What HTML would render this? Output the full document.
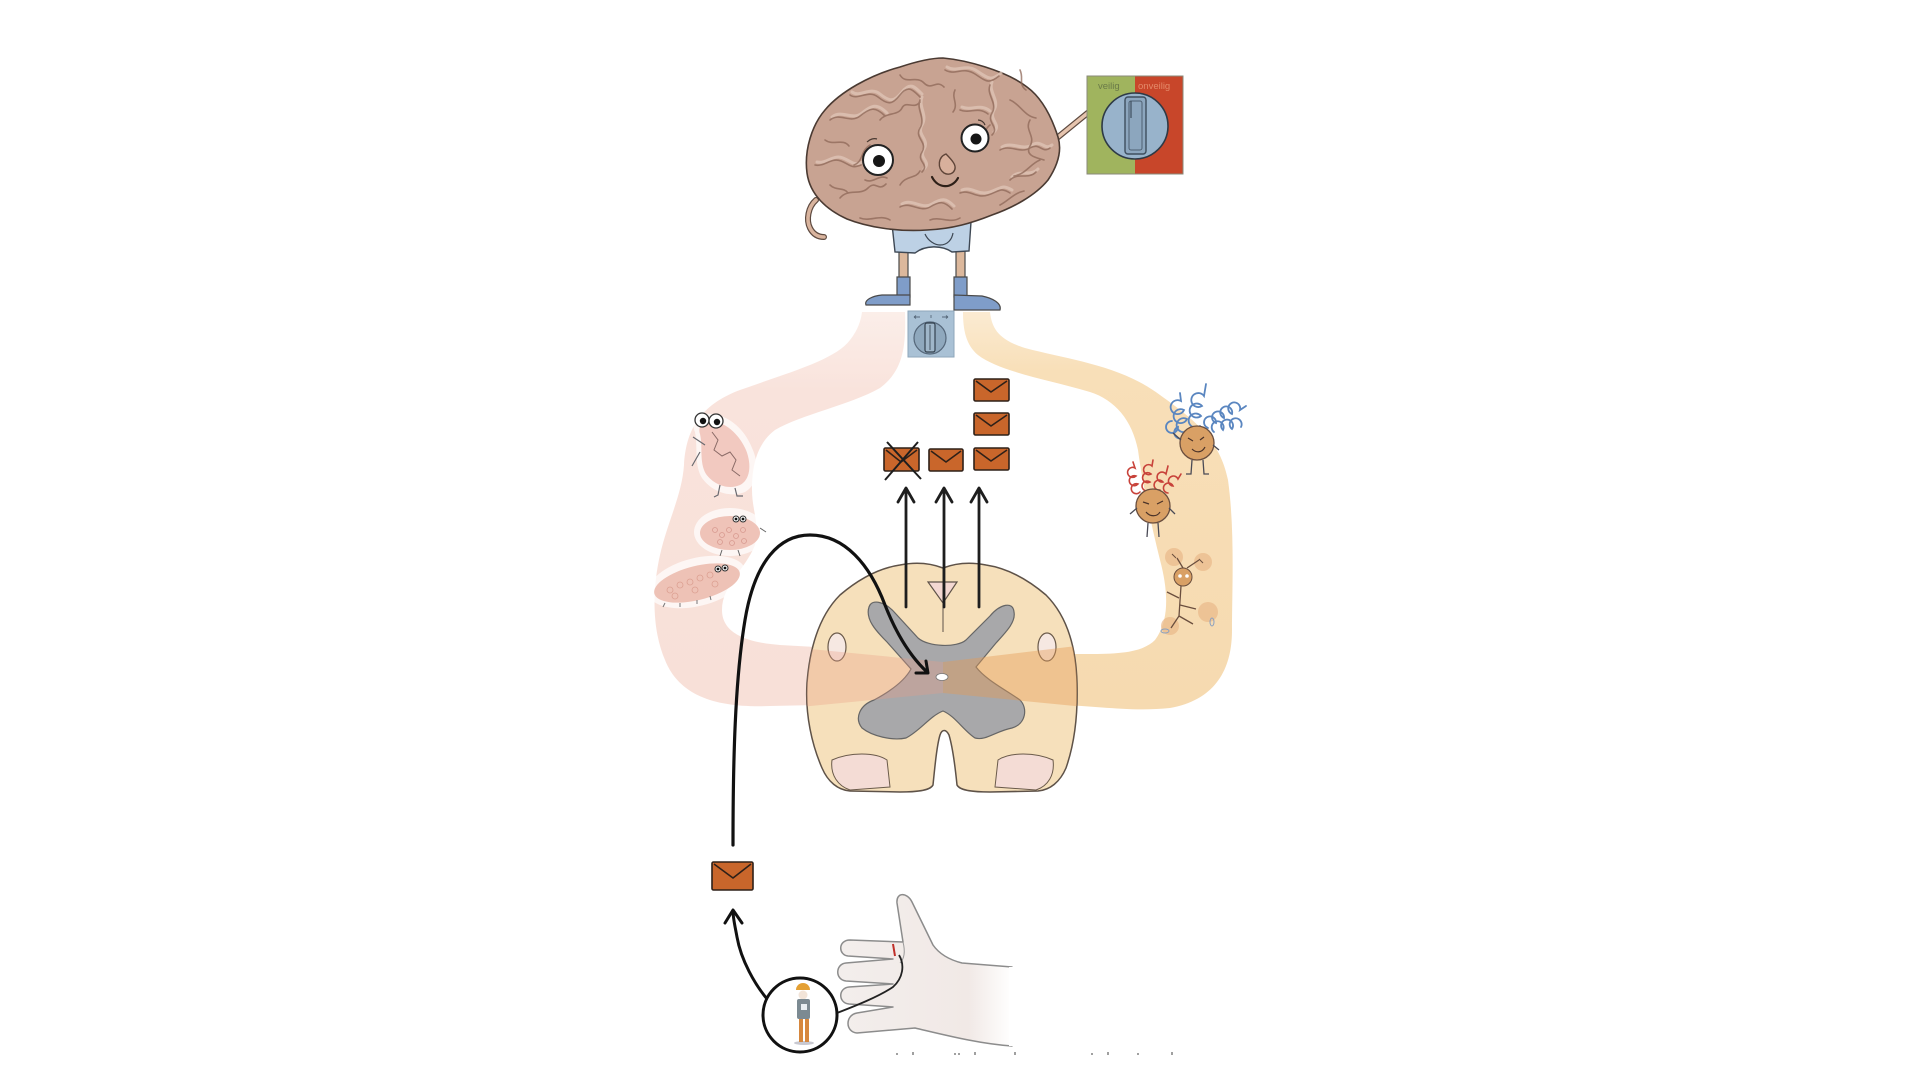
<!DOCTYPE html>
<html><head><meta charset="utf-8"><style>
html,body{margin:0;padding:0;background:#fff;}
svg{display:block;}
</style></head><body>
<svg width="1920" height="1080" viewBox="0 0 1920 1080" xmlns="http://www.w3.org/2000/svg">
<defs>
<clipPath id="cordClip">
<path d="M943 568 C930 563 915 562 900 565 C880 568 860 578 840 595 C820 615 810 645 807 683 C805 715 812 745 822 768 C828 782 838 790 850 791 L900 792 C915 792 930 791 933 785 C935 765 937 745 940 735 C942 729 946 729 949 735 C952 745 955 765 957 785 C960 791 975 792 990 792 L1038 791 C1050 790 1060 782 1066 768 C1074 745 1078 715 1077 683 C1076 645 1066 615 1046 595 C1026 578 1006 568 986 565 C971 562 956 563 943 568 Z"/>
</clipPath>
<linearGradient id="handG" x1="0" x2="1" y1="0" y2="0">
<stop offset="0" stop-color="#f3eeec"/><stop offset="0.75" stop-color="#f1e9e6"/><stop offset="1" stop-color="#ffffff"/>
</linearGradient>
<linearGradient id="lbandG" x1="0" x2="0" y1="0" y2="1">
<stop offset="0" stop-color="#fbeee9"/><stop offset="0.2" stop-color="#f9e3dc"/><stop offset="1" stop-color="#f8e0d8"/>
</linearGradient>
<linearGradient id="rbandG" x1="0" x2="0" y1="0" y2="1">
<stop offset="0" stop-color="#fbebd2"/><stop offset="0.15" stop-color="#f8dfb8"/><stop offset="1" stop-color="#f6dab0"/>
</linearGradient>
</defs>

<!-- Left pink band -->
<path d="M862 312 L905 312 C906 345 904 370 880 388 C850 405 800 415 775 430 C755 445 752 470 752 490 C752 510 760 525 755 545 C745 570 722 585 722 610 C722 630 740 642 780 645 L960 655 L960 702 L770 706 C720 708 680 698 665 660 C652 630 652 590 660 555 C668 520 682 495 684 465 C686 430 700 405 740 390 C790 372 835 360 850 340 C858 330 861 320 862 312 Z" fill="url(#lbandG)"/>

<!-- Right orange band -->
<path d="M963 312 L990 312 C992 330 1000 340 1025 348 C1070 360 1120 365 1160 395 C1195 420 1220 440 1228 480 C1235 530 1232 590 1232 630 C1232 670 1215 700 1170 708 C1130 712 1100 706 1060 705 L940 702 L940 658 L1070 654 C1110 654 1140 655 1155 640 C1170 620 1168 590 1160 560 C1150 520 1142 480 1138 450 C1132 420 1115 400 1090 392 C1050 380 1000 372 978 355 C966 345 963 330 963 312 Z" fill="url(#rbandG)"/>

<!-- Left band creatures -->
<g>
<path d="M695 432 C690 420 700 412 712 414 C730 416 745 430 752 448 C760 465 758 485 745 492 C730 498 712 492 702 478 C694 465 698 448 695 432 Z" fill="#fff" opacity="0.7"/>
<path d="M700 434 C697 425 705 419 714 421 C728 424 740 436 746 450 C752 465 750 480 740 485 C728 490 714 485 706 474 C699 462 703 447 700 434 Z" fill="#f2c9c0"/>
<path d="M712 432 l6 8 l-4 10 l8 6 l8 -4 l6 8 l-4 10 l8 6" fill="none" stroke="#8a6a66" stroke-width="1"/>
<path d="M705 445 l-12 -8 M700 452 l-8 14 M720 485 l-2 10 l-4 2 M735 488 l2 8 l6 0" fill="none" stroke="#6a6a70" stroke-width="1.2"/>
<circle cx="702" cy="420" r="7" fill="#fff" stroke="#333" stroke-width="1.3"/>
<circle cx="716" cy="421" r="7" fill="#fff" stroke="#333" stroke-width="1.3"/>
<circle cx="703" cy="421" r="3.2" fill="#111"/>
<circle cx="717" cy="422" r="3.2" fill="#111"/>

<ellipse cx="730" cy="532" rx="36" ry="24" fill="#fff" opacity="0.7"/>
<ellipse cx="730" cy="533" rx="30" ry="17" fill="#efc3b8"/>
<g fill="none" stroke="#d89a90" stroke-width="0.8">
<circle cx="715" cy="530" r="2.5"/><circle cx="722" cy="535" r="2.5"/><circle cx="729" cy="530" r="2.5"/><circle cx="736" cy="536" r="2.5"/><circle cx="743" cy="530" r="2.5"/><circle cx="720" cy="542" r="2.5"/><circle cx="732" cy="543" r="2.5"/><circle cx="744" cy="541" r="2.5"/>
</g>
<circle cx="736" cy="519" r="3" fill="#fff" stroke="#333"/><circle cx="743" cy="519" r="3" fill="#fff" stroke="#333"/>
<circle cx="736" cy="519" r="1.4" fill="#111"/><circle cx="743" cy="519" r="1.4" fill="#111"/>
<path d="M760 528 l6 4 M722 550 l-2 6 M738 550 l2 6" stroke="#666" stroke-width="1" fill="none"/>

<ellipse cx="697" cy="582" rx="50" ry="24" transform="rotate(-14 697 582)" fill="#fff" opacity="0.7"/>
<ellipse cx="697" cy="583" rx="44" ry="17" transform="rotate(-14 697 583)" fill="#eec2b6"/>
<g fill="none" stroke="#dca092" stroke-width="0.8">
<circle cx="670" cy="590" r="3"/><circle cx="680" cy="585" r="3"/><circle cx="690" cy="582" r="3"/><circle cx="700" cy="578" r="3"/><circle cx="710" cy="575" r="3"/><circle cx="675" cy="596" r="3"/><circle cx="695" cy="590" r="3"/><circle cx="715" cy="584" r="3"/>
</g>
<circle cx="718" cy="569" r="3" fill="#fff" stroke="#333"/><circle cx="725" cy="568" r="3" fill="#fff" stroke="#333"/>
<circle cx="718" cy="569" r="1.4" fill="#111"/><circle cx="725" cy="568" r="1.4" fill="#111"/>
<path d="M665 603 l-2 4 M680 603 l0 4 M697 600 l0 4 M710 596 l1 4" stroke="#777" stroke-width="1" fill="none"/>
</g>

<!-- Right band creatures -->
<g>
<!-- blue-haired -->
<g fill="none" stroke="#5a86c0" stroke-width="1.8" stroke-linecap="round">
<path d="M1190 428 a7 7 0 1 1 -3 -9 a7 7 0 1 1 -3 -9 a7 7 0 1 1 -3 -9 l-1 -8"/>
<path d="M1200 426 a7 7 0 1 1 1 -10 a7 7 0 1 1 1 -10 a7 7 0 1 1 2 -10 l2 -12"/>
<path d="M1208 428 a6 6 0 1 1 8 -5 a6 6 0 1 1 8 -5 a6 6 0 1 1 8 -4 a6 6 0 1 1 8 -4 l6 -4"/>
<path d="M1214 432 a6 6 0 1 1 9 -2 a6 6 0 1 1 9 -1 a6 6 0 1 1 9 -2"/>
<path d="M1186 431 a6 6 0 1 1 -8 -4 a6 6 0 1 1 -6 -6"/>
</g>
<circle cx="1197" cy="443" r="17" fill="#d9a065" stroke="#6a4e3e" stroke-width="1.3"/>
<path d="M1188 438 l5 3 M1204 437 l-4 3 M1192 449 c4 4 10 4 13 -2" fill="none" stroke="#4a3228" stroke-width="1.2"/>
<path d="M1181 440 l-8 -7 M1213 445 l6 5 M1192 460 l-1 14 l-5 0 M1203 460 l1 14 l5 0" fill="none" stroke="#4a4a55" stroke-width="1.3"/>
<!-- red-haired -->
<g fill="none" stroke="#c8423a" stroke-width="1.6" stroke-linecap="round">
<path d="M1140 492 a5 5 0 1 1 -2 -8 a5 5 0 1 1 -2 -8 a5 5 0 1 1 -1 -8 l-2 -6"/>
<path d="M1150 490 a5 5 0 1 1 0 -8 a5 5 0 1 1 1 -8 a5 5 0 1 1 1 -8 l1 -6"/>
<path d="M1160 490 a5 5 0 1 1 3 -8 a5 5 0 1 1 3 -8 l2 -8"/>
<path d="M1168 493 a5 5 0 1 1 5 -7 a5 5 0 1 1 5 -7 l3 -5"/>
</g>
<circle cx="1153" cy="506" r="17" fill="#d9a065" stroke="#6a4e3e" stroke-width="1.3"/>
<path d="M1143 502 l6 2 M1163 501 l-6 3 M1146 512 c4 5 11 5 14 0" fill="none" stroke="#4a3228" stroke-width="1.2"/>
<path d="M1137 508 l-7 6 M1169 508 l6 6 M1148 523 l-1 14 M1158 523 l1 14" fill="none" stroke="#4a4a55" stroke-width="1.3"/>
<!-- small creature -->
<g fill="#eab98a" opacity="0.7">
<circle cx="1174" cy="557" r="9"/><circle cx="1203" cy="562" r="9"/><circle cx="1208" cy="612" r="10"/><circle cx="1170" cy="626" r="9"/>
</g>
<circle cx="1183" cy="577" r="9" fill="#d9a065" stroke="#6a4e3e" stroke-width="1"/>
<circle cx="1180" cy="576" r="1.8" fill="#fff"/><circle cx="1187" cy="576" r="1.8" fill="#fff"/>
<path d="M1181 586 l-2 30 M1179 598 l-12 -6 M1180 605 l16 4 M1179 616 l-8 12 M1179 616 l14 8 M1183 568 l-6 -10 M1187 568 l12 -8" fill="none" stroke="#6a4e3e" stroke-width="1.3"/>
<path d="M1172 554 l4 4 M1199 559 l4 4" stroke="#6a4e3e" stroke-width="1"/>
<ellipse cx="1165" cy="631" rx="4" ry="2" fill="none" stroke="#8aa0c0" stroke-width="1"/>
<ellipse cx="1212" cy="622" rx="2" ry="4" fill="none" stroke="#8aa0c0" stroke-width="1"/>
</g>

<!-- Spinal cord -->
<path d="M943 568 C930 563 915 562 900 565 C880 568 860 578 840 595 C820 615 810 645 807 683 C805 715 812 745 822 768 C828 782 838 790 850 791 L900 792 C915 792 930 791 933 785 C935 765 937 745 940 735 C942 729 946 729 949 735 C952 745 955 765 957 785 C960 791 975 792 990 792 L1038 791 C1050 790 1060 782 1066 768 C1074 745 1078 715 1077 683 C1076 645 1066 615 1046 595 C1026 578 1006 568 986 565 C971 562 956 563 943 568 Z" fill="#f6e0bb" stroke="#5e5248" stroke-width="1.5"/>
<path d="M832 760 C850 752 875 752 887 760 L890 787 L850 790 C838 786 830 775 832 760 Z" fill="#f4dcd5" stroke="#6a5a4a" stroke-width="1"/>
<path d="M1053 760 C1035 752 1010 752 998 760 L995 787 L1036 790 C1048 786 1055 775 1053 760 Z" fill="#f4dcd5" stroke="#6a5a4a" stroke-width="1"/>
<ellipse cx="837" cy="647" rx="9" ry="14" fill="#f6e8e2" stroke="#6a5a4a" stroke-width="1.2"/>
<ellipse cx="1047" cy="647" rx="9" ry="14" fill="#f6e8e2" stroke="#6a5a4a" stroke-width="1.2"/>
<!-- gray butterfly -->
<path d="M869 607 C872 598 886 602 896 614 L918 638 C928 647 957 648 966 640 L990 616 C1000 604 1013 601 1014 612 C1016 622 1006 632 996 643 L976 667 C986 680 1006 690 1020 700 C1028 708 1026 724 1012 728 C996 731 986 741 975 738 C964 731 955 716 943 711 C930 716 920 731 906 738 C892 741 872 736 862 728 C854 718 860 705 874 700 C889 692 904 682 911 669 L887 642 C876 631 865 619 869 607 Z" fill="#a8a8aa" stroke="#666" stroke-width="1.2"/>
<!-- band overlay within cord -->
<g clip-path="url(#cordClip)">
<path d="M800 648 L943 662 L943 693 L800 707 Z" fill="#ea9f85" opacity="0.33"/>
<path d="M943 662 L1085 645 L1085 707 L943 693 Z" fill="#e59a55" opacity="0.42"/>
</g>
<path d="M928 582 L957 582 L943 603 Z" fill="#f4d8d2" stroke="#5e5248" stroke-width="1.2"/>
<path d="M943 568 L943 632" stroke="#5e5248" stroke-width="1"/>
<ellipse cx="942" cy="677" rx="6" ry="3.5" fill="#fff" stroke="#777" stroke-width="0.8"/>

<!-- vertical arrows -->
<g stroke="#1e1e1e" stroke-width="2.8" fill="none" stroke-linecap="round" stroke-linejoin="round">
<path d="M906 607 L906 489 M898 502 L906 488 L914 502"/>
<path d="M944 607 L944 489 M936 502 L944 488 L952 502"/>
<path d="M979 607 L979 489 M971 502 L979 488 L987 502"/>
</g>

<!-- envelopes -->
<g stroke="#2e2018" stroke-width="1.6" stroke-linejoin="round">
<rect x="884" y="448" width="35" height="23" rx="1.5" fill="#c9662b"/>
<path d="M886 450 L901 462 L917 450" fill="none"/>
<rect x="929" y="449" width="34" height="22" rx="1.5" fill="#c9662b"/>
<path d="M931 451 L946 462 L961 451" fill="none"/>
<rect x="974" y="379" width="35" height="22" rx="1.5" fill="#c9662b"/>
<path d="M976 381 L991 392 L1007 381" fill="none"/>
<rect x="974" y="413" width="35" height="22" rx="1.5" fill="#c9662b"/>
<path d="M976 415 L991 426 L1007 415" fill="none"/>
<rect x="974" y="448" width="35" height="22" rx="1.5" fill="#c9662b"/>
<path d="M976 450 L991 461 L1007 450" fill="none"/>
<rect x="712" y="862" width="41" height="28" rx="1.5" fill="#c9662b"/>
<path d="M714 864 L733 878 L751 864" fill="none"/>
</g>
<path d="M887 442 L921 479 M918 442 L885 480" stroke="#1e1e1e" stroke-width="2" fill="none"/>

<!-- curved arrow into cord -->
<path d="M733 845 C733 760 735 680 745 620 C755 560 780 535 810 535 C845 535 870 565 885 605 C898 638 912 658 927 672" fill="none" stroke="#111" stroke-width="3.2" stroke-linecap="round"/>
<path d="M916 673 L928 673 L926 661" fill="none" stroke="#111" stroke-width="3" stroke-linecap="round" stroke-linejoin="round"/>

<!-- arrow from circle to envelope -->
<path d="M768 1000 C755 985 741 960 737 937 C735 926 733 918 733 911" fill="none" stroke="#111" stroke-width="3" stroke-linecap="round"/>
<path d="M725 923 L733 910 L742 923" fill="none" stroke="#111" stroke-width="3" stroke-linecap="round" stroke-linejoin="round"/>

<!-- hand -->
<path d="M1012 967 L962 963 C950 960 940 955 933 945 L912 902 C907 892 896 892 897 903 L903 942 L850 940 C838 940 838 955 848 956 L893 959 L846 963 C835 964 835 980 846 981 L893 984 L849 987 C838 988 838 1003 849 1004 L893 1007 L857 1013 C845 1015 845 1032 857 1033 L915 1028 C945 1035 980 1044 1012 1046 Z" fill="url(#handG)" stroke="#8c8c8c" stroke-width="1.5" stroke-linejoin="round"/>
<path d="M1012 967 L1012 1046" stroke="#fff" stroke-width="6"/>
<path d="M903 942 C905 950 905 958 900 963" fill="none" stroke="#999" stroke-width="1"/>
<path d="M893 944 L895 956" stroke="#c0302a" stroke-width="2"/>
<path d="M837 1013 C855 1006 878 997 893 987 C903 978 905 965 899 955" fill="none" stroke="#222" stroke-width="1.8"/>

<!-- circle with person -->
<circle cx="800" cy="1015" r="37" fill="#fff" stroke="#111" stroke-width="3"/>
<ellipse cx="804" cy="1043" rx="10" ry="2" fill="#c8c8d0"/>
<path d="M796 990 A7 7 0 0 1 810 990 Z" fill="#e4a034"/>
<circle cx="803" cy="995" r="4.5" fill="#f2e4d8"/>
<rect x="797" y="999" width="13" height="20" rx="2" fill="#7c8a92"/>
<rect x="799" y="1019" width="4" height="23" fill="#d6873e"/>
<rect x="805" y="1019" width="4" height="23" fill="#d6873e"/>
<rect x="801" y="1004" width="6" height="6" fill="#e8eef2"/>

<!-- Brain arms (behind body) -->
<path d="M1052 142 L1095 107" stroke="#5e4a40" stroke-width="6" stroke-linecap="round"/>
<path d="M1052 142 L1095 107" stroke="#e6c4ae" stroke-width="3.6" stroke-linecap="round"/>
<path d="M1090 106 L1100 103" stroke="#5e4a40" stroke-width="4" stroke-linecap="round"/>
<path d="M1090 106 L1100 103" stroke="#efd8c8" stroke-width="2.2" stroke-linecap="round"/>
<path d="M816 200 C808 207 806 220 810 228 C813 234 818 237 824 237" fill="none" stroke="#5e4a40" stroke-width="6" stroke-linecap="round"/>
<path d="M816 200 C808 207 806 220 810 228 C813 234 818 237 824 237" fill="none" stroke="#d9b49e" stroke-width="3.6" stroke-linecap="round"/>

<!-- Legs / socks / feet -->
<rect x="899" y="246" width="9" height="32" fill="#dcb89c" stroke="#4a4a4a" stroke-width="1.2"/>
<rect x="956" y="246" width="9" height="32" fill="#dcb89c" stroke="#4a4a4a" stroke-width="1.2"/>
<path d="M897 277 L910 277 L910 297 L897 297 Z" fill="#7f9dc9" stroke="#4a4a4a" stroke-width="1.2"/>
<path d="M954 277 L967 277 L967 297 L954 297 Z" fill="#7f9dc9" stroke="#4a4a4a" stroke-width="1.2"/>
<path d="M910 295 L910 305 L866 305 C864 300 872 296 882 295 Z" fill="#7f9dc9" stroke="#4a4a4a" stroke-width="1.2"/>
<path d="M954 295 L954 310 L1000 310 C1002 303 992 298 982 296 Z" fill="#7f9dc9" stroke="#4a4a4a" stroke-width="1.2"/>
<!-- underpants -->
<path d="M892 224 L971 222 L969 251 L952 252 C942 245 925 245 915 253 L895 252 Z" fill="#bdd1e5" stroke="#3e4854" stroke-width="1.4"/>
<path d="M925 234 C928 241 935 245 940 245 C948 245 952 239 953 233" fill="none" stroke="#3e4854" stroke-width="1.2"/>

<!-- Brain body -->
<path d="M943 58 C965 60 1005 70 1027 87 C1042 98 1052 118 1058 137 C1062 150 1058 165 1048 180 C1035 196 1012 208 992 215 C972 223 952 229 927 230 C897 232 867 227 847 219 C827 210 810 195 807 173 C804 150 812 125 825 110 C840 92 870 75 900 67 C915 62 930 58 943 58 Z" fill="#c8a392" stroke="#4a3a32" stroke-width="1.6"/>
<g fill="none" stroke="#e0c6b8" stroke-width="3" opacity="0.75" stroke-linecap="round">
<path d="M832 117 c10 -8 20 4 30 -4 s15 -10 25 0"/>
<path d="M852 92 c8 6 18 -6 28 2 s14 8 22 -2 s12 -6 20 2"/>
<path d="M947 67 c10 6 18 -4 30 4 s14 10 24 2"/>
<path d="M992 82 c-4 10 8 18 2 28 s8 14 0 22"/>
<path d="M1002 147 c10 -6 20 4 30 -2 s12 6 20 0"/>
<path d="M962 190 c10 -4 16 6 28 2 s12 -8 22 -2"/>
<path d="M902 204 c10 -6 20 6 30 0 s14 -6 22 2"/>
<path d="M817 162 c10 2 16 -8 26 -4 s10 8 20 4"/>
<path d="M922 97 c-4 10 6 18 0 28 s8 14 2 24 s8 12 0 20"/>
<path d="M962 107 c10 4 18 -4 28 4"/>
<path d="M1012 177 c8 -8 18 0 26 -8"/>
</g>
<g fill="none" stroke="#8e6858" stroke-width="1.6" opacity="0.75" stroke-linecap="round">
<path d="M830 120 c10 -8 20 4 30 -4 s15 -10 25 0"/>
<path d="M850 95 c8 6 18 -6 28 2 s14 8 22 -2 s12 -6 20 2"/>
<path d="M900 75 c6 10 16 0 24 8 s12 -4 20 4"/>
<path d="M945 70 c10 6 18 -4 30 4 s14 10 24 2"/>
<path d="M990 85 c-4 10 8 18 2 28 s8 14 0 22"/>
<path d="M1010 100 c10 4 14 16 26 18"/>
<path d="M1030 120 c-6 10 6 16 0 26 s8 12 14 14"/>
<path d="M1000 150 c10 -6 20 4 30 -2 s12 6 20 0"/>
<path d="M1010 180 c8 -8 18 0 26 -8"/>
<path d="M960 193 c10 -4 16 6 28 2 s12 -8 22 -2"/>
<path d="M900 207 c10 -6 20 6 30 0 s14 -6 22 2"/>
<path d="M840 198 c8 -10 20 -2 28 -10 s10 4 18 -4"/>
<path d="M815 165 c10 2 16 -8 26 -4 s10 8 20 4"/>
<path d="M825 140 c8 6 18 -2 24 6"/>
<path d="M880 120 c6 -8 18 -4 22 -12 s12 2 18 -6"/>
<path d="M920 100 c-4 10 6 18 0 28 s8 14 2 24 s8 12 0 20"/>
<path d="M900 185 c6 -10 16 -6 20 -14"/>
<path d="M960 110 c10 4 18 -4 28 4"/>
<path d="M990 125 c-8 6 -4 16 -12 20"/>
<path d="M1040 160 c-10 4 -14 14 -26 16"/>
<path d="M860 218 c10 4 20 -4 30 2"/>
<path d="M930 220 c10 -4 20 4 30 -2"/>
<path d="M870 145 c-10 6 -6 16 -16 20"/>
<path d="M1000 205 c8 -4 14 -12 24 -14"/>
<path d="M955 90 c-4 8 4 14 -2 22"/>
<path d="M865 180 c8 4 14 -6 22 -2"/>
<path d="M1020 70 c4 8 -2 14 6 20"/>
<path d="M830 185 c6 6 14 2 18 8"/>
</g>
<!-- face -->
<circle cx="878" cy="160" r="15" fill="#fff" stroke="#222" stroke-width="2"/>
<circle cx="879" cy="161" r="6" fill="#161616"/>
<circle cx="975" cy="138" r="13.5" fill="#fff" stroke="#222" stroke-width="2"/>
<circle cx="976" cy="139" r="5.5" fill="#161616"/>
<path d="M867 142 c3 -3 7 -4 10 -3 M978 120 c3 0 6 2 7 5" fill="none" stroke="#4a3a32" stroke-width="1.2"/>
<path d="M946 154 C938 157 937 168 944 173 C951 177 959 170 953 162 C951 159 948 156 946 154 Z" fill="#d8b09c" stroke="#5e4438" stroke-width="1.4"/>
<path d="M932 177 C938 189 952 189 958 178" fill="none" stroke="#2e2018" stroke-width="2.2" stroke-linecap="round"/>

<!-- Switch panel -->
<rect x="1087" y="76" width="48" height="98" fill="#a0b45e"/>
<rect x="1135" y="76" width="48" height="98" fill="#c8462a"/>
<rect x="1087" y="76" width="96" height="98" fill="none" stroke="#8a8a7a" stroke-width="1"/>
<text x="1098" y="89" font-family="Liberation Sans, sans-serif" font-size="9.5" fill="#6a7a48">veilig</text>
<text x="1138" y="89" font-family="Liberation Sans, sans-serif" font-size="9.5" fill="#e48a6a">onveilig</text>
<circle cx="1135" cy="126" r="33" fill="#98b3cb" stroke="#2e3a46" stroke-width="1.6"/>
<rect x="1125" y="97" width="21" height="57" rx="3" fill="#8ca6be" stroke="#3e4e5e" stroke-width="1.4"/>
<rect x="1129" y="101" width="13" height="49" rx="2" fill="none" stroke="#4e6072" stroke-width="1"/>
<path d="M1131 101 L1131 118" stroke="#3e4e5e" stroke-width="1.2"/>

<!-- Small switch -->
<rect x="908" y="311" width="46" height="46" fill="#a9c1d5" stroke="#8ea6ba" stroke-width="1"/>
<path d="M914 317 l6 0 M914 317 l2 -1.5 M914 317 l2 1.5 M931 315 l0 3 M942 317 l6 0 M948 317 l-2 -1.5 M948 317 l-2 1.5" stroke="#56687a" stroke-width="0.9" fill="none"/>
<circle cx="930" cy="338" r="16" fill="#8fa8bd" stroke="#55677a" stroke-width="1.2"/>
<rect x="925" y="323" width="10" height="29" rx="2" fill="#9fb6c9" stroke="#34424f" stroke-width="1.2"/>
<path d="M930 325 L930 350" stroke="#34424f" stroke-width="0.8"/>

<!-- faint bottom text marks -->
<g fill="#a0a0a0">
<rect x="896" y="1053" width="2" height="2"/><rect x="912" y="1052" width="2" height="3"/>
<rect x="954" y="1053" width="2" height="2"/><rect x="958" y="1053" width="2" height="2"/>
<rect x="974" y="1052" width="2" height="3"/><rect x="1014" y="1052" width="2" height="3"/>
<rect x="1091" y="1053" width="2" height="2"/><rect x="1107" y="1052" width="2" height="3"/>
<rect x="1137" y="1053" width="2" height="2"/><rect x="1171" y="1052" width="2" height="3"/>
</g>
</svg>
</body></html>
